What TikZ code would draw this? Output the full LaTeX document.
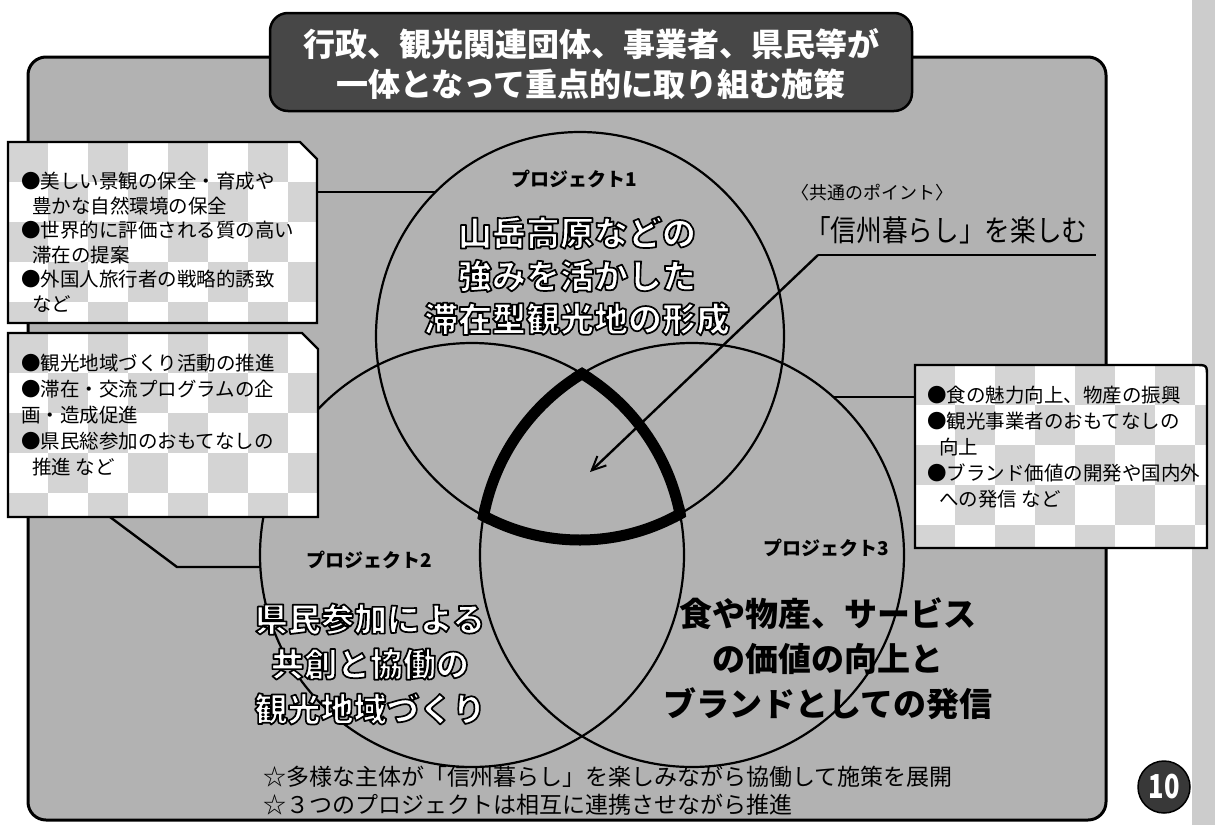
\documentclass[tikz,border=0pt]{standalone}
\usepackage{fontspec}
\usepackage{graphicx}
\setmainfont{Noto Sans CJK JP}
\usetikzlibrary{arrows.meta}

% outlined (hollow) text: white fill, black stroke, one copy only
\newcommand\hollow[1]{{\color{white}\special{pdf:literal direct 0 G 1.7 w 1 j 2 Tr}#1\special{pdf:literal direct 0 Tr}}}

\newcommand\checker[4]{%
 \foreach \i in {0,...,#3}{\foreach \j in {0,...,#4}{%
   \pgfmathtruncatemacro\chk{mod(\i+\j,2)}%
   \ifnum\chk=0 \fill[black!17] ({#1+\i*40},{#2+\j*40}) rectangle ++(40,40);\fi}}}

\tikzset{
  thincirc/.style={line width=2.2pt},
  boldarc/.style={line width=11pt},
  conn/.style={line width=2.4pt},
  boxline/.style={line width=2.4pt},
  boxtxt/.style={anchor=north west, inner sep=0pt, align=left,
     font=\fontsize{19.5}{24.5}\selectfont},
  bigtxt/.style={align=center, inner sep=0pt,
     font=\bfseries\fontsize{33}{45}\selectfont},
  projlabel/.style={inner sep=0pt, font=\bfseries\fontsize{19}{22}\selectfont},
}

\begin{document}
\begin{tikzpicture}[x=1pt,y=-1pt]
\useasboundingbox (0,0) rectangle (1215,825);
\fill[white] (0,0) rectangle (1215,825);
% binding strip
\fill[black!20] (1192,0) rectangle (1215,825);
% main frame
\draw[line width=3pt, rounded corners=18pt, fill=black!30] (28,57) rectangle (1106,820);

% circles
\draw[thincirc] (580,336) circle[radius=204pt];
\draw[thincirc] (472,555) circle[radius=212pt];
\draw[thincirc] (692,555) circle[radius=212pt];

% bold common region
\begin{scope}
 \clip (472,555) circle[radius=217.5pt];
 \clip (692,555) circle[radius=217.5pt];
 \draw[boldarc] (580,336) circle[radius=204pt];
\end{scope}
\begin{scope}
 \clip (580,336) circle[radius=209.5pt];
 \clip (692,555) circle[radius=217.5pt];
 \draw[boldarc] (472,555) circle[radius=212pt];
\end{scope}
\begin{scope}
 \clip (580,336) circle[radius=209.5pt];
 \clip (472,555) circle[radius=217.5pt];
 \draw[boldarc] (692,555) circle[radius=212pt];
\end{scope}

% title
\draw[line width=2.5pt, rounded corners=18pt, fill=black!72] (270,13) rectangle (912,111);
\node[align=center, inner sep=0pt, text=white, font=\bfseries\fontsize{32}{40}\selectfont]
  (title) at (591,64) {行政、観光関連団体、事業者、県民等が\\一体となって重点的に取り組む施策};

% circle texts
\node[projlabel] (p1) at (574,179) {プロジェクト1};
\node[bigtxt, font=\bfseries\fontsize{34}{43}\selectfont] (t1) at (577,276)
  {\hollow{山岳高原などの}\\\hollow{強みを活かした}\\\hollow{滞在型観光地の形成}};
\node[projlabel] (p2) at (369,560) {プロジェクト2};
\node[bigtxt] (t2) at (370,664)
  {\hollow{県民参加による}\\\hollow{共創と協働の}\\\hollow{観光地域づくり}};
\node[projlabel] (p3) at (826,548) {プロジェクト3};
\node[bigtxt] (t3) at (828,659)
  {食や物産、サービス\\の価値の向上と\\ブランドとしての発信};

% common point
\node[inner sep=0pt, font=\fontsize{18}{20}\selectfont] (cp) at (872,193) {〈共通のポイント〉};
\node[anchor=west, inner sep=0pt] (slogan) at (805,230)
  {\scalebox{0.87}[1]{\fontsize{29.5}{32}\selectfont「信州暮らし」を楽しむ}};
\coordinate (ptA) at (818,255);
\coordinate (ptB) at (1096,255);
\coordinate (tip) at (590,472);
\draw[conn] (ptA) -- (ptB);
\draw[conn, -{Straight Barb[length=14pt,width=13pt,line width=2pt]}] (ptA) -- (tip);

% left box 1
\begin{scope}
 \clip (8,142) -- (300,142) -- (317,159) -- (317,323) -- (8,323) -- cycle;
 \fill[white] (8,142) rectangle (317,323);
 \checker{8}{142}{7}{4}
\end{scope}
\draw[boxline] (8,142) -- (300,142) -- (317,159) -- (317,323) -- (8,323) -- cycle;
\node[boxtxt] (b1txt) at (21,172)
 {●美しい景観の保全・育成や\\\hspace*{11pt}豊かな自然環境の保全\\●世界的に評価される質の高い\\\hspace*{11pt}滞在の提案\\●外国人旅行者の戦略的誘致\\\hspace*{11pt}など};
\coordinate (b1e) at (317,192);
\coordinate (c1e) at (435,192);
\draw[conn] (b1e) -- (c1e);

% left box 2
\begin{scope}
 \clip (8,333) -- (302,333) -- (318,349) -- (318,517) -- (8,517) -- cycle;
 \fill[white] (8,333) rectangle (318,517);
 \checker{8}{333}{7}{4}
\end{scope}
\draw[boxline] (8,333) -- (302,333) -- (318,349) -- (318,517) -- (8,517) -- cycle;
\node[boxtxt, font=\fontsize{19.5}{26}\selectfont] (b2txt) at (21,354)
 {●観光地域づくり活動の推進\\●滞在・交流プログラムの企\\画・造成促進\\●県民総参加のおもてなしの\\\hspace*{11pt}推進 など};
\coordinate (b2s) at (110,517);
\coordinate (b2k) at (177,567);
\coordinate (c2e) at (260,567);
\draw[conn] (b2s) -- (b2k) -- (c2e);

% right box
\begin{scope}
 \clip (915,365) -- (1195,365) .. controls (1207,365) .. (1207,377) -- (1207,548) -- (915,548) -- cycle;
 \fill[white] (915,365) rectangle (1207,548);
 \checker{915}{365}{7}{4}
\end{scope}
\draw[boxline] (915,365) -- (1195,365) .. controls (1207,365) .. (1207,377) -- (1207,548) -- (915,548) -- cycle;
\node[boxtxt, font=\fontsize{19.5}{26}\selectfont] (b3txt) at (927,386)
 {●食の魅力向上、物産の振興\\●観光事業者のおもてなしの\\\hspace*{12pt}向上\\●ブランド価値の開発や国内外\\\hspace*{12pt}への発信 など};
\coordinate (b3w) at (915,397);
\coordinate (c3e) at (833,397);
\draw[conn] (b3w) -- (c3e);

% bottom notes
\node[anchor=west, inner sep=0pt, font=\fontsize{23}{26}\selectfont] (n1) at (263,777)
  {☆多様な主体が「信州暮らし」を楽しみながら協働して施策を展開};
\node[anchor=west, inner sep=0pt, font=\fontsize{23}{26}\selectfont] (n2) at (263,805)
  {☆３つのプロジェクトは相互に連携させながら推進};

% page number badge
\node[circle, draw=black, line width=1.5pt, fill=black!78, minimum size=52pt, inner sep=0pt,
  text=white, font=\bfseries\fontsize{30}{32}\selectfont] (badge) at (1164,787)
  {\scalebox{0.85}[1.1]{10}};
\end{tikzpicture}
\end{document}
